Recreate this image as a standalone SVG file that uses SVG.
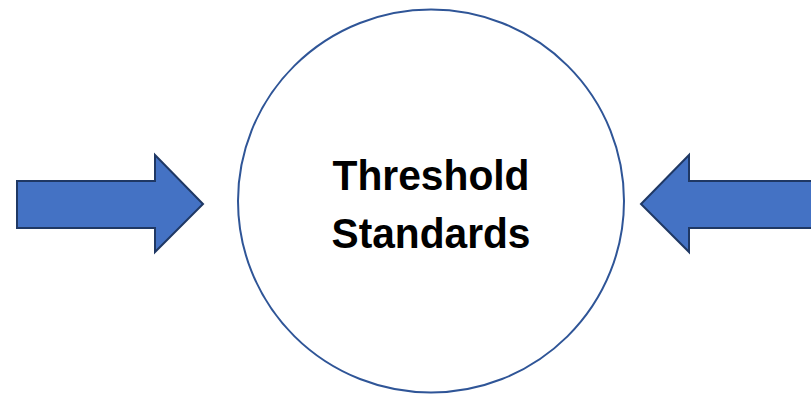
<svg xmlns="http://www.w3.org/2000/svg" width="811" height="395" viewBox="0 0 811 395">
<style>
.arrow{fill:#4472C4;stroke:#1F3864;stroke-width:2;stroke-linejoin:miter}
.label{font-family:"Liberation Sans",Arial,sans-serif;font-weight:bold;font-size:42px;fill:#000;text-anchor:middle}
</style>
<rect width="811" height="395" fill="#fff"/>
<g id="connectors">
<polygon id="arrow-left" class="arrow" points="17,181 155,181 155,155 203,204 155,252 155,228 17,228"/>
<polygon id="arrow-right" class="arrow" points="813,181 689,181 689,155 641,204 689,252 689,228 813,228"/>
</g>
<g id="node-threshold">
<ellipse cx="431" cy="201" rx="193" ry="191.5" fill="#fff" stroke="#2F5597" stroke-width="2"/>
<text class="label" x="431" y="190" textLength="197" lengthAdjust="spacingAndGlyphs">Threshold</text>
<text class="label" x="431" y="248" textLength="199" lengthAdjust="spacingAndGlyphs">Standards</text>
</g>
</svg>
